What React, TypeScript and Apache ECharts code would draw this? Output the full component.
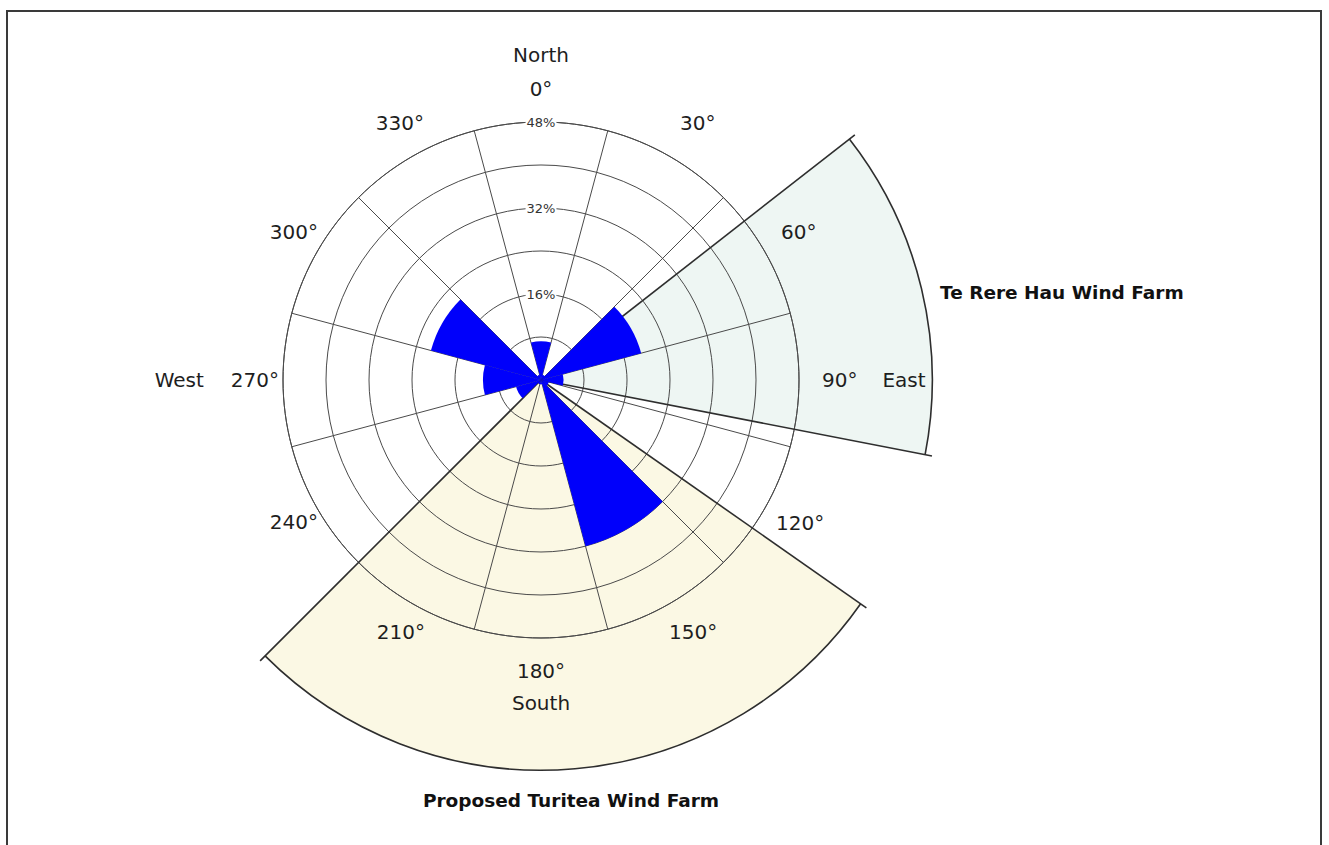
import { useEffect, useRef } from 'react';
import * as echarts from 'echarts';

// ---- data ----
const directions = ['0°', '30°', '60°', '90°', '120°', '150°', '180°', '210°', '240°', '270°', '300°', '330°'];
const frequency = [7.2, 1.0, 19.3, 4.2, 1.5, 32.0, 0.8, 0.8, 4.8, 10.8, 21.2, 1.0];
const ringMax = 48;
const ringStep = 8;
const ringLabels = [16, 32, 48];
const compassWords = ['North', 'East', 'South', 'West'];
const farmNames = ['Te Rere Hau Wind Farm', 'Proposed Turitea Wind Farm'];
const farmFrom = [52, 125];
const farmTo = [101, 225];
const farmReach = [72.8, 72.6];

// ---- styles ----
const FONT = '"DejaVu Sans", Verdana, sans-serif';
const farmFill = ['#eef6f3', '#fbf8e4'];
const gridColor = '#4a4a4a';
const edgeColor = '#2e2e2e';
const labelColor = '#1e1e1e';

// per-label paddings [top, right, bottom, left]
const labelPad: number[][] = [
  [0, 0, 51, 0],
  [0, 0, 47.5, 25],
  [0, 0, 22, 42.5],
  [0, 0, 0, 53],
  [17, 0, 0, 37.5],
  [42.5, 0, 0, 14],
  [51, 0, 0, 0],
  [42.5, 2, 0, 0],
  [16, 25.5, 0, 0],
  [0, 34, 0, 0],
  [0, 25.5, 22, 0],
  [0, 3, 47.5, 0],
];

function buildRich() {
  const rich: Record<string, any> = {};
  labelPad.forEach((p, i) => {
    rich['d' + i] = { fontSize: 20, fontFamily: FONT, color: labelColor, height: 24, padding: p };
  });
  rich.n = { fontSize: 20, fontFamily: FONT, color: labelColor, height: 24, padding: [0, 0, 10, 0] };
  rich.e = { fontSize: 20, fontFamily: FONT, color: labelColor, height: 24, padding: [0, 0, 0, 25] };
  rich.s = { fontSize: 20, fontFamily: FONT, color: labelColor, height: 24, padding: [8, 0, 0, 0] };
  rich.w = { fontSize: 20, fontFamily: FONT, color: labelColor, height: 24, padding: [0, 27, 0, 0] };
  return rich;
}

function labelFormatter(value: string, index: number) {
  if (index === 0) return `{n|${compassWords[0]}}\n{d0|${value}}`;
  if (index === 3) return `{d3|${value}}{e|${compassWords[1]}}`;
  if (index === 6) return `{d6|${value}}\n{s|${compassWords[2]}}`;
  if (index === 9) return `{w|${compassWords[3]}}{d9|${value}}`;
  return `{d${index}|${value}}`;
}

function farmGeom(api: any) {
  const reach = api.value(0);
  const from = api.value(1);
  const to = api.value(2);
  const c = api.coord([0, from]);
  const p0 = api.coord([reach, from]);
  const p1 = api.coord([reach, to]);
  const r = Math.hypot(p0[0] - c[0], p0[1] - c[1]);
  const a0 = Math.atan2(p0[1] - c[1], p0[0] - c[0]);
  let a1 = Math.atan2(p1[1] - c[1], p1[0] - c[0]);
  if (a1 < a0) a1 += Math.PI * 2;
  return { reach, from, to, c, r, a0, a1 };
}

export default function App() {
  const ref = useRef<HTMLDivElement>(null);

  useEffect(() => {
    if (!ref.current) return;
    const chart = echarts.init(ref.current, undefined, { renderer: 'svg' });
    const farmData = farmNames.map((_, i) => [farmReach[i], farmFrom[i], farmTo[i]]);

    chart.setOption({
      animation: false,
      backgroundColor: '#ffffff',
      polar: [
        { center: [541, 380], radius: 258 },
        { center: [541, 380], radius: 258 },
      ],
      angleAxis: [
        {
          polarIndex: 0,
          type: 'category',
          data: directions,
          startAngle: 105,
          clockwise: true,
          boundaryGap: true,
          z: 0,
          axisLine: { show: true, lineStyle: { color: gridColor, width: 1 } },
          axisTick: { show: false },
          splitLine: { show: true, lineStyle: { color: gridColor, width: 1 } },
          axisLabel: {
            show: true,
            interval: 0,
            margin: -30,
            formatter: labelFormatter,
            rich: buildRich(),
          },
        },
        {
          polarIndex: 1,
          type: 'value',
          min: 0,
          max: 360,
          startAngle: 90,
          clockwise: true,
          show: false,
        },
      ],
      radiusAxis: [
        {
          polarIndex: 0,
          type: 'value',
          min: 0,
          max: ringMax,
          interval: ringStep,
          z: 0,
          axisLine: { show: false },
          axisTick: { show: false },
          axisLabel: { show: false },
          splitLine: { show: true, lineStyle: { color: gridColor, width: 1 } },
        },
        {
          polarIndex: 1,
          type: 'value',
          min: 0,
          max: ringMax,
          show: false,
        },
      ],
      series: [
        {
          type: 'custom',
          name: 'farm areas',
          coordinateSystem: 'polar',
          polarIndex: 1,
          z: -1,
          silent: true,
          dimensions: ['reach', 'from', 'to'],
          encode: { radius: 'reach', angle: ['from', 'to'] },
          data: farmData,
          renderItem: (params: any, api: any) => {
            const g = farmGeom(api);
            return {
              type: 'sector',
              shape: { cx: g.c[0], cy: g.c[1], r0: 0, r: g.r, startAngle: g.a0, endAngle: g.a1, clockwise: true },
              style: { fill: farmFill[params.dataIndex], stroke: null },
            };
          },
        },
        {
          type: 'custom',
          name: 'farm edges',
          coordinateSystem: 'polar',
          polarIndex: 1,
          z: 1,
          silent: true,
          dimensions: ['reach', 'from', 'to'],
          encode: { radius: 'reach', angle: ['from', 'to'] },
          data: farmData,
          renderItem: (params: any, api: any) => {
            const g = farmGeom(api);
            const e0 = api.coord([g.reach + 1.3, g.from]);
            const e1 = api.coord([g.reach + 1.3, g.to]);
            const st = { stroke: edgeColor, lineWidth: 1.6, fill: null };
            return {
              type: 'group',
              children: [
                { type: 'line', shape: { x1: g.c[0], y1: g.c[1], x2: e0[0], y2: e0[1] }, style: st },
                { type: 'line', shape: { x1: g.c[0], y1: g.c[1], x2: e1[0], y2: e1[1] }, style: st },
                {
                  type: 'arc',
                  shape: { cx: g.c[0], cy: g.c[1], r: g.r, startAngle: g.a0, endAngle: g.a1, clockwise: true },
                  style: st,
                },
              ],
            };
          },
        },
        {
          type: 'bar',
          name: 'wind frequency',
          coordinateSystem: 'polar',
          polarIndex: 0,
          data: frequency,
          barCategoryGap: '0%',
          barGap: '0%',
          z: 3,
          itemStyle: { color: '#0000fb' },
        },
        {
          type: 'custom',
          name: 'ring labels',
          coordinateSystem: 'polar',
          polarIndex: 0,
          z: 5,
          silent: true,
          data: ringLabels.map((v) => [v, 0]),
          renderItem: (params: any, api: any) => {
            const v = api.value(0);
            const p = api.coord([v, api.value(1)]);
            return {
              type: 'text',
              x: p[0],
              y: p[1],
              style: {
                text: v + '%',
                align: 'center',
                verticalAlign: 'middle',
                fill: '#333',
                fontSize: 13,
                fontFamily: FONT,
                backgroundColor: '#ffffff',
                padding: [0, 1],
              },
            };
          },
        },
      ],
      graphic: [
        {
          type: 'rect',
          silent: true,
          z: -10,
          shape: { x: 7, y: 11, width: 1314, height: 860 },
          style: { fill: 'none', stroke: '#3a3a3a', lineWidth: 2 },
        },
        {
          type: 'text',
          x: 940,
          y: 292,
          style: {
            text: farmNames[0],
            fontSize: 18.5,
            fontWeight: 'bold',
            fontFamily: FONT,
            fill: '#111',
            align: 'left',
            verticalAlign: 'middle',
            textAlign: 'left',
            textVerticalAlign: 'middle',
          },
        },
        {
          type: 'text',
          x: 571,
          y: 800,
          style: {
            text: farmNames[1],
            fontSize: 18.5,
            fontWeight: 'bold',
            fontFamily: FONT,
            fill: '#111',
            align: 'center',
            verticalAlign: 'middle',
            textAlign: 'center',
            textVerticalAlign: 'middle',
          },
        },
      ],
    });

    return () => {
      chart.dispose();
    };
  }, []);

  return (
    <div
      ref={ref}
      style={{ position: 'fixed', left: 0, top: 0, width: 1329, height: 845, background: '#fff' }}
    />
  );
}
